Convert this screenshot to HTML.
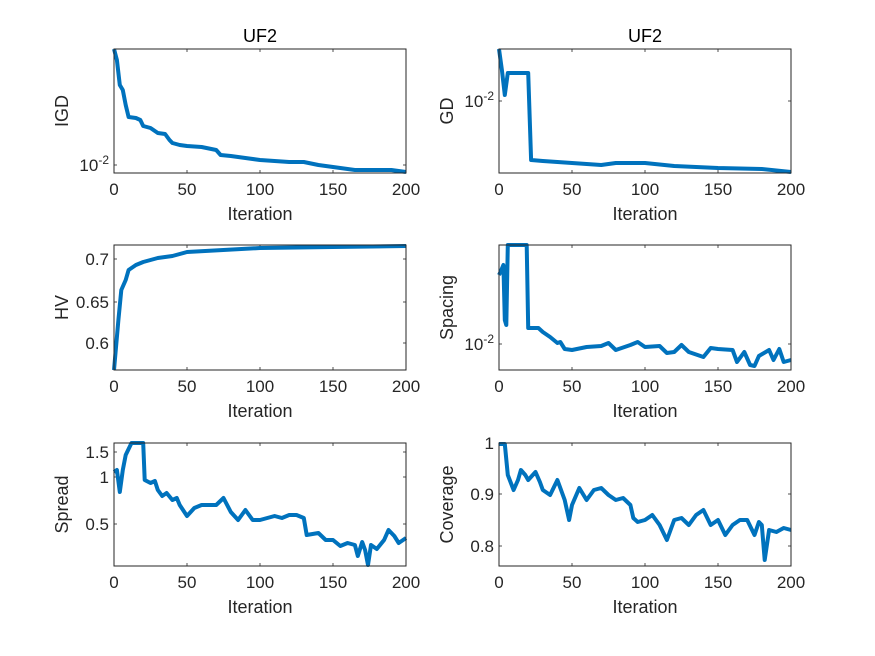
<!DOCTYPE html>
<html><head><meta charset="utf-8"><style>
body{margin:0;background:#fff;}
svg{display:block;font-family:"Liberation Sans",Arial,sans-serif;}
</style></head><body>
<svg id="s" width="875" height="656" xmlns="http://www.w3.org/2000/svg">
<rect width="875" height="656" fill="#fff"/>
</svg>
<script>
const S=document.getElementById('s');const NS='http://www.w3.org/2000/svg';
function el(t,a,txt){const e=document.createElementNS(NS,t);for(const k in a)e.setAttribute(k,a[k]);if(txt!==undefined)e.textContent=txt;S.appendChild(e);return e;}
const charts=[
{x0:114,y0:49,y1:173,title:'UF2',yl:'IGD',yt:[[165,'10','-2']],
 d:[[0,49],[2,60],[4,85],[6,90],[8,105],[10,117],[15,118],[18,120],[20,126],[25,128],[30,133],[35,134],[38,140],[40,143],[45,145],[50,146],[60,147],[70,150],[73,155],[80,156],[90,158],[100,160],[110,161],[120,162],[130,162],[140,165],[150,167],[165,170],[180,170],[190,170],[200,172]]},
{x0:499,y0:49,y1:173,title:'UF2',yl:'GD',yt:[[101,'10','-2']],
 d:[[0,49],[2,70],[4,95],[6,73],[20,73],[22,160],[30,161],[50,163],[70,165],[80,163],[100,163],[120,166],[150,168],[180,169],[200,172]]},
{x0:114,y0:245,y1:370,yl:'HV',yt:[[259,'0.7'],[302,'0.65'],[343,'0.6']],
 d:[[0,370],[3,320],[5,290],[8,280],[10,270],[15,265],[20,262],[25,260],[30,258],[40,256],[50,252],[100,248],[150,247],[200,246]]},
{x0:499,y0:245,y1:370,yl:'Spacing',yt:[[344,'10','-2']],
 d:[[0,275],[1,272],[3,265],[4,320],[5,325],[6,245],[19,245],[20,328],[27,328],[30,332],[35,337],[40,343],[42,342],[45,349],[50,350],[60,347],[70,346],[75,343],[80,350],[90,345],[95,342],[100,347],[110,346],[115,353],[120,352],[125,345],[130,352],[140,357],[145,348],[150,349],[160,350],[163,362],[168,352],[172,365],[175,366],[178,356],[185,350],[188,360],[192,349],[195,362],[200,360]]},
{x0:114,y0:443,y1:566,yl:'Spread',yt:[[452,'1.5'],[477,'1'],[524,'0.5']],
 d:[[0,472],[2,470],[4,492],[6,470],[8,455],[12,443],[20,443],[21,480],[25,483],[28,481],[30,490],[33,496],[36,493],[40,500],[43,498],[45,505],[50,516],[55,508],[60,505],[70,505],[75,498],[80,512],[85,520],[90,510],[95,520],[100,520],[110,516],[115,518],[120,515],[125,515],[130,518],[132,535],[140,533],[145,540],[150,540],[155,546],[160,543],[165,545],[167,556],[170,542],[172,550],[174,565],[176,545],[180,549],[185,540],[188,530],[192,536],[195,543],[200,538]]},
{x0:499,y0:443,y1:566,yl:'Coverage',yt:[[443,'1'],[494,'0.9'],[546,'0.8']],
 d:[[0,444],[4,444],[6,475],[10,490],[13,480],[15,470],[18,475],[20,480],[25,472],[28,482],[30,490],[35,495],[40,480],[45,500],[48,520],[50,505],[55,488],[60,500],[65,490],[70,488],[75,495],[80,500],[85,498],[90,505],[92,518],[95,522],[100,520],[105,515],[110,525],[115,540],[120,520],[125,518],[130,525],[135,515],[140,510],[145,525],[150,520],[155,535],[160,525],[165,520],[170,520],[175,535],[178,522],[180,525],[182,560],[185,530],[190,532],[195,528],[200,530]]}
];
const W=292,col='#262626';
charts.forEach(c=>{
 const x1=c.x0+W;
 for(let i=0;i<=4;i++){const x=c.x0+i*W/4;
  el('line',{x1:x,y1:c.y1,x2:x,y2:c.y1-3,stroke:col,'stroke-width':0.8});
  el('line',{x1:x,y1:c.y0,x2:x,y2:c.y0+3,stroke:col,'stroke-width':0.8});
  el('text',{x:x,y:c.y1+22,'text-anchor':'middle','font-size':17,fill:col},String(i*50));}
 c.yt.forEach(t=>{
  el('line',{x1:c.x0,y1:t[0],x2:c.x0+3,y2:t[0],stroke:col,'stroke-width':0.8});
  el('line',{x1:x1,y1:t[0],x2:x1-3,y2:t[0],stroke:col,'stroke-width':0.8});
  if(t[2]){const tx=el('text',{x:c.x0-5,y:t[0]+6,'text-anchor':'end','font-size':17,fill:col});
   const a=document.createElementNS(NS,'tspan');a.textContent=t[1];tx.appendChild(a);
   const b=document.createElementNS(NS,'tspan');b.setAttribute('dy','-7');b.setAttribute('font-size','12');b.textContent=t[2];tx.appendChild(b);}
  else el('text',{x:c.x0-5,y:t[0]+6,'text-anchor':'end','font-size':17,fill:col},t[1]);});
 const pts=c.d.map(p=>(c.x0+p[0]/200*W).toFixed(1)+','+p[1]).join(' ');
 el('polyline',{points:pts,fill:'none',stroke:'#0072BD','stroke-width':4,'stroke-linejoin':'round'});
 el('rect',{x:c.x0,y:c.y0,width:W,height:c.y1-c.y0,fill:'none',stroke:col,'stroke-width':1});
 el('text',{x:c.x0+W/2,y:c.y1+47,'text-anchor':'middle','font-size':18,fill:col},'Iteration');
 const yc=(c.y0+c.y1)/2,lx=c.x0-46;
 el('text',{x:lx,y:yc,'text-anchor':'middle','font-size':18,fill:col,transform:`rotate(-90 ${lx} ${yc})`},c.yl);
 if(c.title)el('text',{x:c.x0+W/2,y:c.y0-7,'text-anchor':'middle','font-size':18,fill:'#000'},c.title);
});
</script>
</body></html>
